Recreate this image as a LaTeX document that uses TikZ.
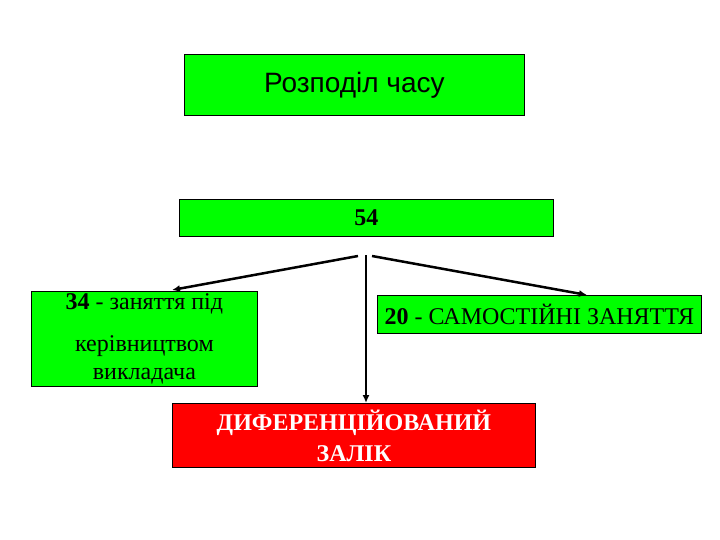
\documentclass[tikz,border=0pt]{standalone}
\usepackage{fontspec}
\setmainfont{Liberation Serif}
\newfontfamily\arialfont{Liberation Sans}
\usetikzlibrary{arrows,arrows.meta}

\begin{document}
\begin{tikzpicture}[>={Latex[length=8pt,width=7pt]},thick,x=1pt,y=-1pt]

\tikzset{
	kasten/.style={draw=black,line width=0.8pt,fill=green,inner sep=0pt,anchor=north west},
	pfeil/.style={->,line width=2.5pt}
}

\useasboundingbox (0,0) rectangle (720,540);
\fill[white] (0,0) rectangle (720,540);

% boxes
\node[kasten,minimum width=340pt,minimum height=61pt,
	font=\arialfont\fontsize{28}{32}\selectfont] (zeit) at (184,54) {Розподіл часу};
\node[kasten,minimum width=374pt,minimum height=37pt,
	font=\fontsize{24}{28}\selectfont] (summe) at (179,199) {\textbf{54}};
\node[kasten,minimum width=226pt,minimum height=95pt,align=center,
	font=\fontsize{24}{28}\selectfont] (links) at (31,291)
	{\textbf{34} - заняття під\\[14pt]керівництвом\\викладача};
\node[kasten,minimum width=324pt,minimum height=38pt,
	font=\fontsize{24}{28}\selectfont] (rechts) at (377,295) {\textbf{20} - САМОСТІЙНІ ЗАНЯТТЯ};
\node[kasten,fill=red,minimum width=363pt,minimum height=64pt,align=center,
	text=white,font=\fontsize{24}{31}\selectfont\bfseries] (zalik) at (172,403)
	{ДИФЕРЕНЦІЙОВАНИЙ\\ЗАЛІК};

% arrows
\coordinate (k1) at (358,256);
\coordinate (k2) at (372,256);
\coordinate (k3) at (366,255);
\coordinate (pl) at (172,290);
\coordinate (pr) at (587,295);

\draw[pfeil] (k1) -- (pl);
\draw[pfeil] (k2) -- (pr);
\draw[pfeil] (k3) -- (k3 |- zalik.north);

\end{tikzpicture}
\end{document}
